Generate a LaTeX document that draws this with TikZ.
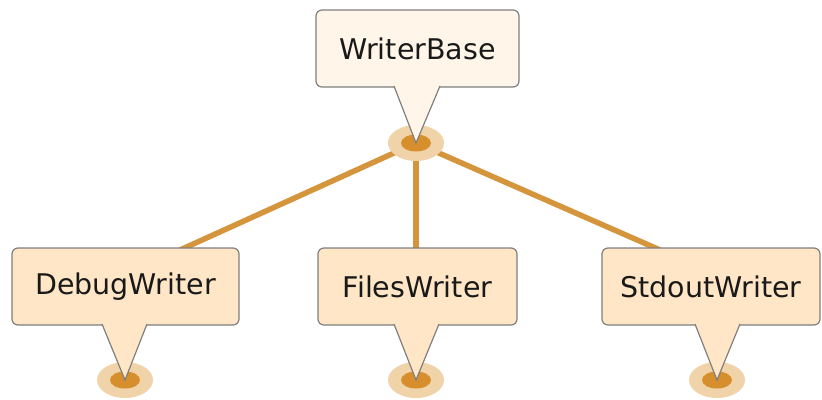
\documentclass[tikz,border=0pt]{standalone}
\usepackage{fontspec}
\setmainfont{DejaVu Sans}
\definecolor{boxline}{HTML}{7F7F7F}
\definecolor{topfill}{HTML}{FFF5E9}
\definecolor{subfill}{HTML}{FFE6C6}
\definecolor{hubout}{HTML}{F0D3A8}
\definecolor{hubin}{HTML}{D68F2C}
\definecolor{linkcol}{HTML}{D4953C}
\tikzset{
  classbox/.style={draw=boxline, line width=1.2pt, rounded corners=6pt, inner sep=0pt,
    font=\fontsize{28.5}{32}\selectfont, text=black!90},
  link/.style={draw=linkcol, line width=5.5pt},
}
\newcommand{\hubdot}[1]{%
  \fill[hubout] (#1) ellipse [x radius=28pt, y radius=18pt];
  \fill[hubin] (#1) ellipse [x radius=15pt, y radius=8.5pt];}
\newcommand{\pointer}[4]{% box, left x, right x, tip
  \fill[#1] (#2) -- (#4) -- (#3) -- cycle;
  \draw[boxline, line width=1.2pt, line join=miter] (#2) -- (#4) -- (#3);}
\begin{document}
\begin{tikzpicture}[x=1pt,y=-1pt]
\useasboundingbox (0,0) rectangle (822,399);
% coordinates
\coordinate (hubtop) at (416,143);
\coordinate (tipdw) at (125,380);
\coordinate (tipfw) at (416,380);
\coordinate (tipsw) at (717,380);
\coordinate (enddw) at (180,250);
\coordinate (endfw) at (416,250);
\coordinate (endsw) at (660,250);
% links
\draw[link] (hubtop) -- (enddw);
\draw[link] (hubtop) -- (endfw);
\draw[link] (hubtop) -- (endsw);
% hubs
\hubdot{hubtop}
\hubdot{tipdw}
\hubdot{tipfw}
\hubdot{tipsw}
% boxes
\node[classbox, fill=topfill, minimum width=203pt, minimum height=77pt] (wb) at (417.5,48.5) {WriterBase};
\node[classbox, fill=subfill, minimum width=227pt, minimum height=77pt] (dw) at (125.5,286.5) {DebugWriter};
\node[classbox, fill=subfill, minimum width=199pt, minimum height=77pt] (fw) at (417.5,286.5) {FilesWriter};
\node[classbox, fill=subfill, minimum width=218pt, minimum height=77pt] (sw) at (711,286.5) {StdoutWriter};
% pointers
\coordinate (wbl) at (394,86); \coordinate (wbr) at (440,86);
\coordinate (dwl) at (102,324); \coordinate (dwr) at (147,324);
\coordinate (fwl) at (394,324); \coordinate (fwr) at (439,324);
\coordinate (swl) at (695,324); \coordinate (swr) at (740,324);
\pointer{topfill}{wbl}{wbr}{hubtop}
\pointer{subfill}{dwl}{dwr}{tipdw}
\pointer{subfill}{fwl}{fwr}{tipfw}
\pointer{subfill}{swl}{swr}{tipsw}
\end{tikzpicture}
\end{document}
